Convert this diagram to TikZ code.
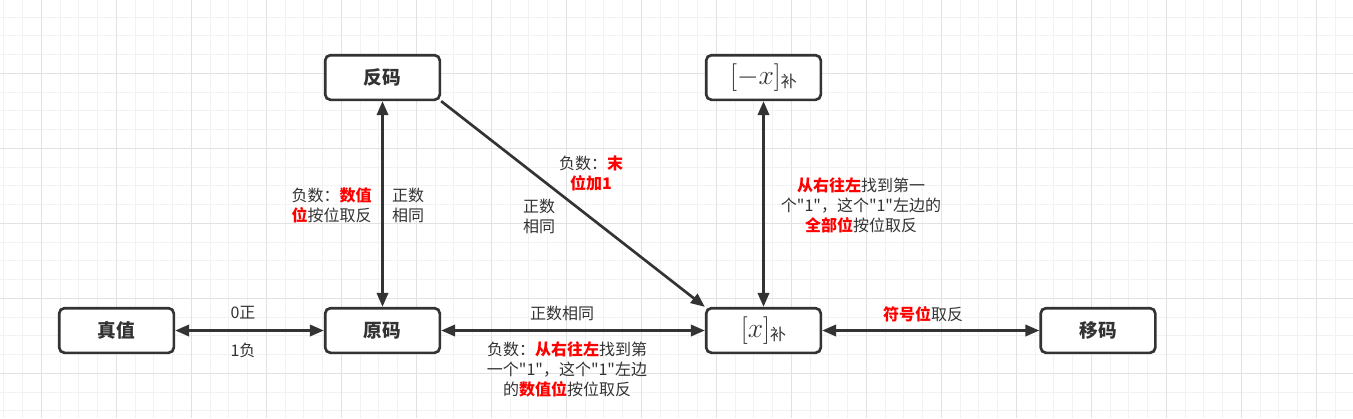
\documentclass[tikz,border=0pt]{standalone}
\usepackage{fontspec}
\newfontfamily\cjk{Noto Sans CJK SC}
\usepackage{xcolor}
\definecolor{color1}{RGB}{51, 51, 51}
\definecolor{color2}{RGB}{255, 0, 0}
\definecolor{color3}{RGB}{242, 242, 242}
\definecolor{color4}{RGB}{226, 226, 226}
\usetikzlibrary{arrows.meta}
\newcommand{\redb}[1]{\textcolor{color2}{\bfseries #1}}

\begin{document}
\begin{tikzpicture}[x=0.75pt, y=-0.75pt, >={Triangle[length=10.5pt,width=8.5pt]},
  box/.style={draw=color1, line width=2pt, rounded corners=4pt, fill=white, minimum width=86pt, minimum height=33.5pt, text=color1, font=\cjk\bfseries\fontsize{14}{16}\selectfont},
  mathbox/.style={box, font=\fontsize{20.74}{22}\selectfont},
  lbl/.style={text=color1, font=\cjk\fontsize{12}{15}\selectfont, align=center, inner sep=1pt},
  conn/.style={draw=color1, line width=2pt}]
\useasboundingbox[fill=white] (0,0) rectangle (1353,418);
% grid
\foreach \i in {0,...,71} \draw[color3, line width=0.75pt] ({3.8+18.75*\i},0) -- ({3.8+18.75*\i},418);
\foreach \i in {-1,...,21} \draw[color3, line width=0.75pt] (0,{17.05+18.75*\i}) -- (1353,{17.05+18.75*\i});
\foreach \i in {0,...,17} \draw[color4, line width=0.75pt] ({41.3+75*\i},0) -- ({41.3+75*\i},418);
\foreach \i in {0,...,4} \draw[color4, line width=0.75pt] (0,{73.3+75*\i}) -- (1353,{73.3+75*\i});

% boxes
\node[box] (zhen) at (116.5,330.5) {真值};
\node[box] (yuan) at (382.5,330.5) {原码};
\node[box] (fan) at (382.5,77.5) {反码};
\node[mathbox] (negbu) at (763.5,77.5) {$[-x]$\raisebox{-2.5pt}{\cjk\fontsize{12}{12}\selectfont 补}};
\node[mathbox] (bu) at (763.5,330.5) {$[x]$\raisebox{-2.5pt}{\cjk\fontsize{12}{12}\selectfont 补}};
\node[box] (yi) at (1098,330.5) {移码};

% connectors
\draw[conn, <->] (zhen) -- (yuan);
\draw[conn, <->] (yuan) -- (fan);
\draw[conn, ->] (fan.south east) -- (bu.north west);
\draw[conn, <->] (yuan) -- (bu);
\draw[conn, <->] (bu) -- (negbu);
\draw[conn, <->] (bu) -- (yi);

% labels
\node[lbl] (lzheng) at (243,313) {0正};
\node[lbl] (lfu) at (243,350) {1负};
\node[lbl] (lfanneg) at (331.7,205) {负数：\redb{数值}\\\redb{位}按位取反};
\node[lbl] (lfanpos) at (408,205) {正数\\相同};
\node[lbl] (ldiagneg) at (591,173) {负数：\redb{末}\\\redb{位加1}};
\node[lbl] (ldiagpos) at (539,216) {正数\\相同};
\node[lbl] (lbupos) at (562,313) {正数相同};
\node[lbl] (lbuneg) at (567,369) {负数：\redb{从右往左}找到第\\一个"1"，这个"1"左边\\的\redb{数值位}按位取反};
\node[lbl] (lnegbu) at (861,205) {\redb{从右往左}找到第一\\个"1"，这个"1"左边的\\\redb{全部位}按位取反};
\node[lbl] (lyi) at (923,314) {\redb{符号位}取反};
\end{tikzpicture}
\end{document}
